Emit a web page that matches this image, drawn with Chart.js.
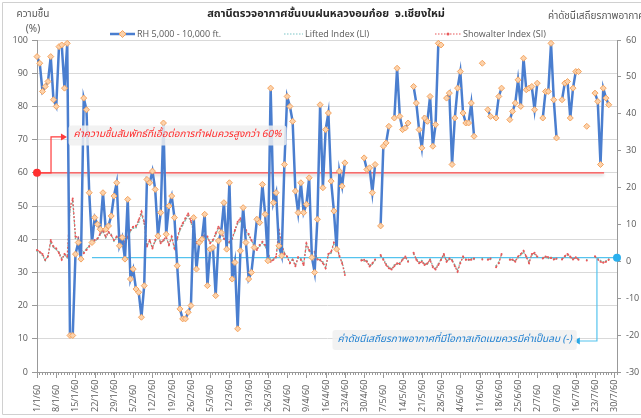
<!DOCTYPE html>
<html>
<head>
<meta charset="utf-8">
<script src="https://cdn.jsdelivr.net/npm/chart.js@4.4.1/dist/chart.umd.min.js"></script>
<style>
  html, body { margin: 0; padding: 0; background: #fff; }
</style>
</head>
<body>
<canvas id="chart" width="641" height="418"></canvas>
<script>
// --- data ---
const monthDays = [31, 28, 31, 30, 31, 30, 31];
const tickLabels = ['1/1/60','8/1/60','15/1/60','22/1/60','29/1/60','5/2/60','12/2/60','19/2/60',
  '26/2/60','5/3/60','12/3/60','19/3/60','26/3/60','2/4/60','9/4/60','16/4/60','23/4/60','30/4/60',
  '7/5/60','14/5/60','21/5/60','28/5/60','4/6/60','11/6/60','18/6/60','25/6/60','2/7/60','9/7/60',
  '16/7/60','23/7/60','30/7/60'];

// RH 5,000 - 10,000 ft. (%)
const rh = [
  95, 93, 84.5, 86, 87.5, 95, 82, 80, 98, 98.5,
  85.5, 99, 11, 11, 35.5, 39, 34, 82.5, 79, 54,
  39, 46.5, 44.5, 43, 54, 43, 44, 47, 53, 57,
  38, 40.5, 34, 52, 28, 31, 25, 24, 16.5, 26,
  58, 57, 60.5, 55, 41, 48, 75, 41.5, 50, 53,
  46.5, 32, 19, 16, 16, 18, 20, 46.5, 31, 39,
  40, 47.5, 26, 37, 37.5, 23, 39.5, 42, 51, 37,
  57, 28, 33, 13, 36.5, 49.5, 39, 28, 30, 37.5,
  46, 45, 56.5, 47.5, 33.5, 85.5, 51, 54, 38, 35,
  62.5, 83, 80, 75.5, 54.5, 48, 57, 48, 50.5, 58.5,
  34.5, 30, 46, 80.5, 55.5, 73, 78, 57.5, 48.5, 37,
  60.5, 56, 63, null, null, null, null, null, null, 64.5,
  61, 61.5, 54, 62.5, null, 44, 68, 69, 74, null,
  76.5, 91.5, 77, 73, 73.5, 75, null, 86, 81, 73,
  67.5, 76.5, 75.5, 83, 68, 74.5, 99, 98.5, null, 82.5,
  84, 62.5, 76.5, 85.5, 90.5, 78, 75, 75, 81, 71,
  null, null, 93, null, 79, 77, null, 76.5, 83, 85.5,
  null, null, 76, 78.5, 81, 88, 80, 94.5, 85, 85.5,
  86, 79, 87, null, 76.5, 84.5, 84.5, 99, 82, 70.5,
  null, 82, 87, 87.5, 76.5, 85.5, 90.5, 90.5, null, null,
  74, null, null, 84, 81.5, 62.5, 85.5, 82.5, 80.5, null,
  null, null
];

// Lifted Index (LI)
const li = [
  2.8, 2.4, 1.6, 0.2, 1.5, 5.2, 3.8, 3.2, 2.5, 0.8,
  1.7, 1.0, 13.9, 16.2, 6.2, 6.0, 2.8, 2.5, 3.4, 4.3,
  5.1, 5.5, 6.0, 7.2, 8.1, 6.4, 7.7, 7.3, 5.5, 6.4,
  6.8, 6.1, 5.2, 6.3, 8.2, 9.0, 9.1, 10.6, 12.8, 10.2,
  4.3, 5.5, 3.8, 5.4, 6.8, 5.2, 5.5, 6.3, 4.7, 6.3,
  3.8, 5.9, 8.4, 9.8, 11.2, 12.3, 10.5, 8.1, 5.2, 5.5,
  6.4, 6.7, 6.4, 5.2, 5.5, 7.2, 8.9, 8.2, 6.0, 5.2,
  5.0, 6.0, 8.1, 10.2, 11.0, 9.4, 8.2, 7.0, 5.6, 4.3,
  3.4, 4.1, 5.0, 4.1, 2.6, 0.2, 0.6, 1.0, 7.9, 4.6,
  2.3, 1.1, -0.2, 0.6, -1.0, 0.9, 0.7, -0.7, 4.5, 2.8,
  2.2, 2.3, 0.8, 0.2, -0.2, -1.5, 1.7, 2.3, 4.6, 4.0,
  1.3, -0.2, -3.2, null, null, null, null, null, 0.5, 0.1,
  0.2, -1.1, -0.8, 0.3, null, 1.4, 0.7, -0.7, -1.6, -2.0,
  -1.0, -0.8, -0.4, 0.6, 1.0, 0.2, null, 2.0, 0.7, -0.2,
  0.2, -0.7, -0.8, 0.6, -1.3, -1.9, -0.7, 0.6, 1.7, 0.2,
  0.5, 0.5, -1.0, -2.4, -0.2, 1.0, 0.6, 0.3, 0.7, 0.5,
  null, null, 0.8, null, 0.6, 0.5, null, -1.2, -0.2, 1.7,
  null, null, 0.6, 0.3, 0.2, 1.0, 1.7, 2.5, 1.1, -0.2,
  1.7, 2.0, 1.1, null, 1.0, 1.1, 0.8, 1.1, 0.7, 0.6,
  null, 0.7, 1.2, 1.7, 1.0, 0.7, 0.9, 0.6, null, null,
  0.4, null, null, 1.2, 0.7, 0.2, -0.2, 0.1, 0.6, null,
  null, null
];

// Showalter Index (SI)
const si = [
  3.1, 2.6, 2, 0.4, 1.3, 5.8, 4, 3.5, 2.2, 0.4,
  2, 1.3, 14.8, 17, 6.7, 6.5, 3.1, 2.2, 3.1, 4,
  4.9, 5.8, 6.2, 7.6, 8.5, 6.7, 8, 7.1, 5.8, 6.7,
  7.1, 6.5, 4.9, 6.7, 8.5, 9.4, 9.6, 11.2, 13.5, 10.7,
  4, 5.8, 3.5, 5.8, 7.1, 4.9, 5.8, 6.7, 4.4, 6.7,
  3.5, 6.2, 8.9, 10.3, 11.7, 13, 11, 8.5, 4.9, 5.8,
  6.7, 7.1, 6.7, 4.9, 5.8, 7.6, 9.4, 8.5, 6.2, 4.9,
  5.3, 6.2, 8.5, 10.7, 11.7, 9.8, 8.5, 7.4, 5.8, 4,
  3.1, 4.4, 5.3, 4.4, 2.3, -0.1, 0.4, 1.3, 8.5, 4.9,
  2, 1.3, -0.5, 0.4, -1.3, 1.1, 0.4, -1, 4.9, 3.1,
  2, 2.6, 0.5, 0.4, -0.5, -1.9, 2, 2.6, 5.1, 4.2,
  1.5, -0.5, -3.7, null, null, null, null, null, 0.2, 0.4,
  -0.1, -1.4, -0.5, 0.5, null, 1.7, 0.4, -1, -1.9, -2.2,
  -1.3, -0.5, -0.7, 0.4, 1.3, -0.1, null, 2.3, 0.4, -0.5,
  -0.1, -1, -0.5, 0.4, -1.6, -2.2, -1, 0.4, 2, -0.1,
  0.8, 0.2, -1.3, -2.8, -0.5, 1.3, 0.4, 0.5, 0.4, 0.8,
  null, null, 0.5, null, 0.4, 0.8, null, -1.6, -0.5, 2,
  null, null, 0.4, 0.5, -0.1, 1.3, 2, 2.9, 1.3, -0.5,
  2, 2.3, 1.3, null, 0.8, 1.3, 1.1, 0.9, 0.5, 0.8,
  null, 0.5, 1.4, 2, 1.3, 0.5, 1.1, 0.4, null, null,
  0.2, null, null, 1.4, 0.5, -0.1, -0.4, -0.1, 0.4, null,
  null, null
];

const dayLabels = [];
monthDays.forEach((n, m) => {
  for (let d = 1; d <= n; d++) dayLabels.push(d + '/' + (m + 1) + '/60');
});

const THAI = 'Tahoma, "Noto Sans Thai", "Noto Sans", sans-serif';
const LATIN = '"Open Sans", sans-serif';
const GREY = '#595959';

function arrowHead(ctx, x, y, dir, color) {
  ctx.fillStyle = color;
  ctx.beginPath();
  ctx.moveTo(x, y);
  ctx.lineTo(x - dir * 6, y - 3.5);
  ctx.lineTo(x - dir * 6, y + 3.5);
  ctx.closePath();
  ctx.fill();
}

function noteBox(ctx, text, left, cy, color) {
  ctx.font = 'italic 10px ' + THAI;
  const w = ctx.measureText(text).width;
  ctx.fillStyle = 'rgba(240,240,240,0.85)';
  ctx.beginPath();
  ctx.roundRect(left - 5, cy - 10, w + 10, 20, 3);
  ctx.fill();
  ctx.fillStyle = color;
  ctx.textAlign = 'left';
  ctx.textBaseline = 'middle';
  ctx.fillText(text, left, cy);
}

const decor = {
  id: 'decor',
  beforeDatasetsDraw(chart) {
    const { ctx, scales: { x, y, y1 } } = chart;
    ctx.save();
    // 60% threshold line
    const ry = y.getPixelForValue(60);
    ctx.shadowColor = 'rgba(0,0,0,0.25)';
    ctx.shadowBlur = 3;
    ctx.shadowOffsetY = 2;
    ctx.strokeStyle = '#ff4a4a';
    ctx.lineWidth = 1.3;
    ctx.beginPath();
    ctx.moveTo(x.getPixelForValue(0), ry);
    ctx.lineTo(x.getPixelForValue(206.3), ry);
    ctx.stroke();
    ctx.shadowColor = 'transparent';
    // zero stability line
    const cy = y1.getPixelForValue(1);
    ctx.strokeStyle = '#55c3ee';
    ctx.lineWidth = 1.2;
    ctx.beginPath();
    ctx.moveTo(x.getPixelForValue(20), cy);
    ctx.lineTo(x.getPixelForValue(211), cy);
    ctx.stroke();
    ctx.restore();
  },
  afterDatasetsDraw(chart) {
    const { ctx, scales: { x, y, y1 } } = chart;
    ctx.save();
    // red note + connector
    const ry = y.getPixelForValue(60);
    const rTop = y.getPixelForValue(70.8);
    const x0 = x.getPixelForValue(0);
    const xk = x.getPixelForValue(5.1);
    const xa = x.getPixelForValue(10.9);
    ctx.strokeStyle = '#ff3b3b';
    ctx.lineWidth = 1.2;
    ctx.beginPath();
    ctx.moveTo(x0, ry);
    ctx.lineTo(xk, ry);
    ctx.lineTo(xk, rTop);
    ctx.lineTo(xa - 4, rTop);
    ctx.stroke();
    arrowHead(ctx, xa, rTop, 1, '#ff3b3b');
    ctx.fillStyle = '#ff3030';
    ctx.beginPath();
    ctx.arc(x0, ry, 4, 0, Math.PI * 2);
    ctx.fill();
    noteBox(ctx, 'ค่าความชื้นสัมพัทธ์ที่เอื้อต่อการทำฝนควรสูงกว่า 60%',
      x.getPixelForValue(13.3), rTop - 1.5, '#ff2a2a');

    // blue note + connector
    const cy = y1.getPixelForValue(1);
    const by = y1.getPixelForValue(-21.6);
    const xv = x.getPixelForValue(203.7);
    const xb = x.getPixelForValue(195.3);
    ctx.strokeStyle = '#55c3ee';
    ctx.lineWidth = 1.2;
    ctx.beginPath();
    ctx.moveTo(xv, cy);
    ctx.lineTo(xv, by);
    ctx.lineTo(xb + 4, by);
    ctx.stroke();
    arrowHead(ctx, xb, by, -1, '#2aa8e6');
    ctx.fillStyle = '#2ab0ee';
    ctx.beginPath();
    ctx.arc(x.getPixelForValue(211), cy, 4, 0, Math.PI * 2);
    ctx.fill();
    noteBox(ctx, 'ค่าดัชนีเสถียรภาพอากาศที่มีโอกาสเกิดเมฆควรมีค่าเป็นลบ (-)',
      x.getPixelForValue(109.3), by - 1, '#1e7fd0');
    ctx.restore();
  },
  afterDraw(chart) {
    const { ctx, scales: { x } } = chart;
    ctx.save();
    // date labels, every 7 days, rotated
    ctx.fillStyle = GREY;
    ctx.font = '9px ' + LATIN;
    ctx.textAlign = 'left';
    ctx.textBaseline = 'middle';
    ctx.strokeStyle = '#999';
    ctx.lineWidth = 1;
    tickLabels.forEach((t, i) => {
      const px = Math.round(x.getPixelForValue(i * 7)) + 0.5;
      ctx.beginPath();
      ctx.moveTo(px, x.top);
      ctx.lineTo(px, x.top + 6);
      ctx.stroke();
      ctx.save();
      ctx.translate(px, 412);
      ctx.rotate(-Math.PI / 2);
      ctx.fillText(t, 0, 0);
      ctx.restore();
    });

    // titles
    ctx.textBaseline = 'middle';
    ctx.textAlign = 'center';
    ctx.fillStyle = '#262626';
    ctx.font = 'bold 11px ' + THAI;
    ctx.fillText('สถานีตรวจอากาศชั้นบนฝนหลวงอมก๋อย  จ.เชียงใหม่', 326, 15);
    ctx.fillStyle = GREY;
    ctx.font = '10px ' + THAI;
    ctx.fillText('ความชื้น', 33, 15);
    ctx.fillText('(%)', 33, 30);
    ctx.textAlign = 'left';
    ctx.fillText('ค่าดัชนีเสถียรภาพอากาศ', 548, 17);

    // legend
    const ly = 34;
    ctx.font = '9px ' + LATIN;
    ctx.fillStyle = GREY;
    ctx.strokeStyle = '#4a7ecf';
    ctx.lineWidth = 2.5;
    ctx.beginPath(); ctx.moveTo(110, ly); ctx.lineTo(135, ly); ctx.stroke();
    ctx.fillStyle = '#fcd2ab';
    ctx.strokeStyle = '#f4a460';
    ctx.lineWidth = 1;
    ctx.beginPath();
    ctx.moveTo(122.5, ly - 3.5); ctx.lineTo(126, ly); ctx.lineTo(122.5, ly + 3.5); ctx.lineTo(119, ly);
    ctx.closePath(); ctx.fill(); ctx.stroke();
    ctx.fillStyle = GREY;
    ctx.fillText('RH 5,000 - 10,000 ft.', 137, ly);

    ctx.setLineDash([1.5, 1.5]);
    ctx.lineWidth = 1.2;
    ctx.strokeStyle = '#7cc6c8';
    ctx.beginPath(); ctx.moveTo(284, ly); ctx.lineTo(303, ly); ctx.stroke();
    ctx.fillText('Lifted Index (LI)', 305, ly);
    ctx.strokeStyle = '#e8585a';
    ctx.beginPath(); ctx.moveTo(435, ly); ctx.lineTo(461, ly); ctx.stroke();
    ctx.setLineDash([]);
    ctx.fillStyle = '#e8585a';
    ctx.beginPath(); ctx.arc(448, ly, 1.5, 0, Math.PI * 2); ctx.fill();
    ctx.fillStyle = GREY;
    ctx.fillText('Showalter Index (SI)', 463, ly);

    // outer frame
    ctx.strokeStyle = '#d0d0d0';
    ctx.lineWidth = 1;
    ctx.beginPath();
    ctx.moveTo(641, 2.5); ctx.lineTo(2.5, 2.5); ctx.lineTo(2.5, 414.5); ctx.lineTo(641, 414.5);
    ctx.stroke();
    ctx.restore();
  }
};

new Chart(document.getElementById('chart'), {
  type: 'line',
  data: {
    labels: dayLabels,
    datasets: [
      {
        label: 'RH 5,000 - 10,000 ft.',
        data: rh,
        yAxisID: 'y',
        borderColor: '#4a7ecf',
        borderWidth: 2.5,
        pointStyle: 'rectRot',
        pointRadius: 3,
        pointBackgroundColor: '#fcd2ab',
        pointBorderColor: '#f4a460',
        pointBorderWidth: 1,
        spanGaps: false,
        order: 0
      },
      {
        label: 'Lifted Index (LI)',
        data: li,
        yAxisID: 'y1',
        borderColor: '#78b4a0',
        borderWidth: 1.2,
        borderDash: [1.5, 1.5],
        pointRadius: 0.8,
        pointBackgroundColor: '#78b4a0',
        pointBorderWidth: 0,
        order: 2
      },
      {
        label: 'Showalter Index (SI)',
        data: si,
        yAxisID: 'y1',
        borderColor: '#e8585a',
        borderWidth: 1.3,
        borderDash: [2, 2],
        pointRadius: 1,
        pointBackgroundColor: '#e8585a',
        pointBorderWidth: 0,
        order: 1
      }
    ]
  },
  options: {
    responsive: false,
    animation: false,
    devicePixelRatio: 1,
    layout: { padding: { top: 40, left: 0, right: 0, bottom: 0 } },
    plugins: {
      legend: { display: false },
      tooltip: { enabled: false }
    },
    scales: {
      x: {
        type: 'category',
        offset: false,
        grid: { display: true, drawOnChartArea: false, tickLength: 3, color: '#999' },
        border: { color: '#999' },
        ticks: { autoSkip: false, maxRotation: 0, minRotation: 0, callback: () => '' },
        afterFit: (s) => { s.height = 46; }
      },
      y: {
        position: 'left',
        min: 0,
        max: 100,
        ticks: { stepSize: 10, color: GREY, font: { family: LATIN, size: 9 }, padding: 4 },
        grid: { color: '#d9d9d9', tickColor: '#999', tickLength: 5 },
        border: { color: '#999' },
        afterFit: (s) => { s.width = 37; }
      },
      y1: {
        position: 'right',
        min: -30,
        max: 60,
        ticks: { stepSize: 10, color: GREY, font: { family: LATIN, size: 9 }, padding: 5 },
        grid: { drawOnChartArea: false, tickColor: '#999', tickLength: 4 },
        border: { color: '#999' },
        afterFit: (s) => { s.width = 24; }
      }
    }
  },
  plugins: [decor]
});
</script>
</body>
</html>
